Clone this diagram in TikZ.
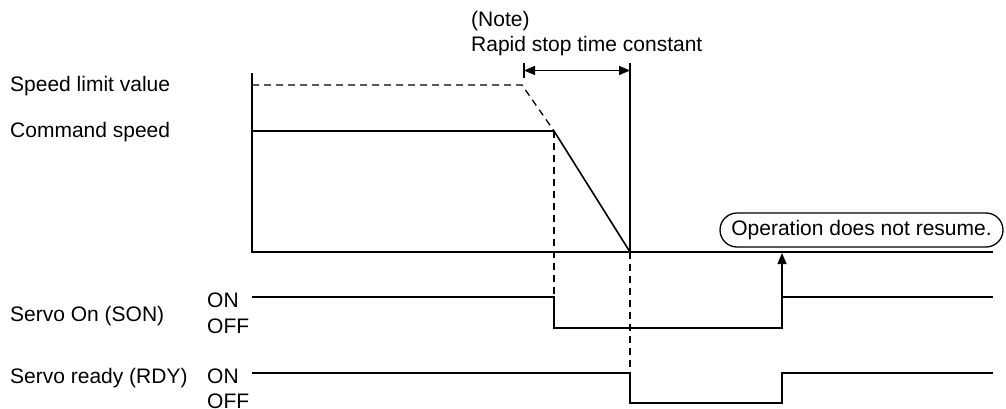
\documentclass[tikz,border=0pt]{standalone}
\usepackage{fontspec}
\setmainfont{Liberation Sans}
\usetikzlibrary{arrows.meta}
\begin{document}
\begin{tikzpicture}[x=1pt,y=-1pt,
  lbl/.style={anchor=base west,inner sep=0pt,font=\fontsize{21}{25}\selectfont},
  sig/.style={line width=1.6pt},
  dsh/.style={line width=1.3pt,dash pattern=on 7pt off 5pt},
  tip/.style={-{Triangle[length=11pt,width=9pt]}},
  msg/.style={draw,line width=1.3pt,rounded corners=17pt,minimum width=283pt,minimum height=34pt,inner sep=0pt,font=\fontsize{21}{25}\selectfont}]
\useasboundingbox (0,0) rectangle (1006,409);
% labels
\node[lbl] (note) at (471,27) {(Note)};
\node[lbl] (rapid) at (471,52) {Rapid stop time constant};
\node[lbl] (slv) at (10,92) {Speed limit value};
\node[lbl] (cs) at (10,138) {Command speed};
\node[lbl] (son) at (10,321) {Servo On (SON)};
\node[lbl] (rdy) at (10,383) {Servo ready (RDY)};
\node[lbl] (son1) at (207,307) {ON};
\node[lbl] (son0) at (207,333) {OFF};
\node[lbl] (rdy1) at (207,383) {ON};
\node[lbl] (rdy0) at (207,408) {OFF};
\node[msg] (box) at (861.5,230) {Operation does not resume.};
% key coordinates
\coordinate (ax0) at (252,73);
\coordinate (org) at (252,252);
\coordinate (axE) at (993,252);
\coordinate (slA) at (252,85);
\coordinate (slB) at (522,85);
\coordinate (cmA) at (252,131);
\coordinate (cmB) at (554,131);
\coordinate (stop) at (630,252);
\coordinate (vtop) at (630,63);
\coordinate (tkT) at (524,63);
\coordinate (tkB) at (524,78);
\coordinate (arL) at (524,70.5);
\coordinate (arR) at (630,70.5);
% axes
\draw[sig] (ax0) -- (org) -- (axE);
% speed limit (dashed)
\draw[dsh] (slA) -- (slB) -- (cmB);
% command speed
\draw[sig] (cmA) -- (cmB) -- (stop);
% stop time marker
\draw[line width=1.3pt] (vtop) -- (stop);
\draw[line width=1.3pt] (tkT) -- (tkB);
\draw[line width=1.3pt,{Triangle[length=11pt,width=9pt]}-{Triangle[length=11pt,width=9pt]}] (arL) -- (arR);
% SON
\coordinate (s0) at (252,297);
\coordinate (s1) at (554,297);
\coordinate (s2) at (554,328);
\coordinate (s3) at (782,328);
\coordinate (s4) at (782,297);
\coordinate (s5) at (993,297);
\draw[sig] (s0) -- (s1) -- (s2) -- (s3) -- (s4) -- (s5);
\coordinate (atip) at (782,253);
\draw[line width=1.3pt,tip] (s4) -- (atip);
% RDY
\coordinate (r0) at (252,373);
\coordinate (r1) at (630,373);
\coordinate (r2) at (630,403);
\coordinate (r3) at (782,403);
\coordinate (r4) at (782,373);
\coordinate (r5) at (993,373);
\draw[sig] (r0) -- (r1) -- (r2) -- (r3) -- (r4) -- (r5);
% dashed guides
\draw[dsh] (cmB) -- (s1);
\draw[dsh] (stop) -- (r1);
\end{tikzpicture}
\end{document}
